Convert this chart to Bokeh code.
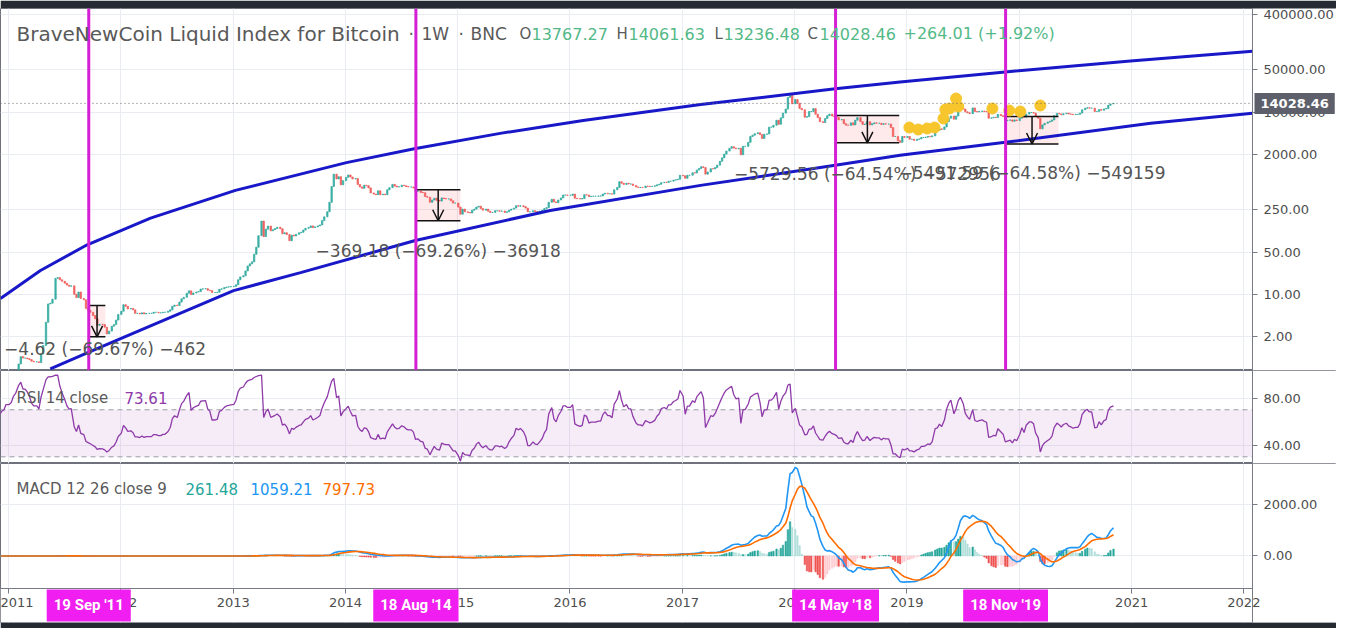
import numpy as np
import pandas as pd
from bokeh.plotting import figure
from bokeh.layouts import column
from bokeh.models import (Range1d, FixedTicker, PrintfTickFormatter, DatetimeTickFormatter,
                          Label, Span, Arrow, OpenHead, ColumnDataSource, BoxAnnotation, Grid,
                          LinearAxis, LogAxis, DatetimeAxis)
from bokeh.embed import file_html
from bokeh.resources import INLINE

# ---------------- data (weekly closes, four weeks per month) ----------------
close_2010 = [0.06, 0.07, 0.065, 0.07, 0.07, 0.07, 0.065, 0.065, 0.062, 0.062, 0.062, 0.063,
              0.063, 0.10, 0.105, 0.15, 0.20, 0.28, 0.25, 0.28, 0.21, 0.24, 0.25, 0.30]   # Jul-Dec
close_2011 = [0.30, 0.32, 0.40, 0.45, 0.72, 0.95, 0.90, 0.90, 0.88, 0.85, 0.80, 0.78,
              0.78, 0.76, 1.05, 1.45, 3.5, 7.0, 7.2, 8.4, 18.5, 19.0, 17.5, 16.5,
              15.4, 14.3, 13.7, 13.9, 10.1, 8.9, 11.0, 8.6, 8.2, 5.9, 5.5, 5.1,
              4.5, 4.0, 3.1, 3.25, 3.2, 2.9, 2.25, 2.5, 3.0, 3.2, 3.8, 4.7]
close_2012 = [5.3, 6.8, 6.4, 5.8, 5.9, 5.6, 4.9, 4.9, 4.8, 5.0, 4.8, 4.9,
              4.9, 4.9, 5.1, 5.1, 5.0, 5.0, 5.1, 5.1, 5.3, 5.6, 6.4, 6.7,
              6.6, 7.5, 8.5, 9.0, 10.5, 11.5, 10.0, 10.6, 11.0, 11.2, 12.3, 12.4,
              12.5, 11.8, 11.6, 10.8, 10.8, 10.9, 12.2, 12.4, 13.0, 13.3, 13.4, 13.5]
close_2013 = [13.6, 14.5, 17.5, 19.5, 20.4, 24.5, 29.5, 32.0, 34.5, 46.0, 60.0, 93.0,
              162.0, 90.0, 119.0, 134.0, 112.0, 117.0, 122.0, 128.0, 121.0, 100.0, 104.0, 97.0,
              77.0, 95.0, 92.0, 98.0, 104.0, 106.0, 115.0, 123.0, 127.0, 135.0, 127.0, 130.0,
              135.0, 140.0, 165.0, 190.0, 230.0, 330.0, 600.0, 960.0, 800.0, 870.0, 640.0, 750.0]
close_2014 = [850, 930, 860, 800, 810, 650, 590, 560, 630, 620, 570, 470,
              450, 440, 510, 440, 450, 440, 530, 575, 650, 610, 590, 595,
              630, 620, 600, 590, 590, 570, 500, 505, 480, 475, 410, 400,
              330, 360, 385, 355, 345, 390, 380, 375, 375, 350, 320, 320]
close_2015 = [275, 210, 255, 230, 225, 220, 245, 255, 275, 285, 260, 245,
              255, 235, 225, 225, 240, 240, 235, 237, 225, 230, 245, 255,
              265, 290, 285, 290, 280, 265, 230, 230, 240, 232, 230, 236,
              245, 260, 270, 330, 370, 335, 325, 360, 390, 435, 435, 430]
close_2016 = [430, 450, 385, 380, 375, 380, 440, 435, 410, 415, 415, 415,
              420, 420, 450, 465, 455, 455, 450, 530, 580, 720, 680, 650,
              680, 660, 660, 625, 590, 580, 580, 575, 610, 605, 600, 605,
              615, 640, 655, 695, 705, 700, 735, 735, 765, 775, 790, 920]
close_2017 = [900, 820, 920, 920, 1010, 1000, 1120, 1190, 1270, 1230, 960, 1040,
              1180, 1170, 1230, 1350, 1560, 1780, 2050, 2300, 2550, 2720, 2580, 2510,
              2560, 2000, 2750, 2750, 3200, 4000, 4200, 4450, 4600, 4300, 3700, 4350,
              4400, 5700, 5700, 6100, 7400, 6350, 8100, 9700, 11300, 17600, 19000, 13800]
close_2018 = [16200, 14100, 11600, 11000, 8300, 8500, 10300, 10300, 11500, 9300, 8200, 7000,
              6800, 7900, 8800, 9350, 8700, 8500, 8200, 7500, 7600, 6500, 6150, 6100,
              6700, 6200, 7400, 8200, 7000, 6300, 6400, 7000, 6200, 6500, 6700, 6600,
              6600, 6300, 6500, 6400, 6400, 5600, 4000, 4000, 3400, 3200, 4000, 3850]
close_2019 = [4000, 3600, 3600, 3450, 3600, 3650, 3850, 3850, 3900, 4000, 3950, 4100,
              5000, 5050, 5350, 5200, 5750, 7000, 8000, 8700, 7700, 8700, 10700, 11900,
              11300, 10200, 9800, 9500, 11800, 10300, 10150, 10350, 10500, 10300, 10200, 8000,
              8100, 8300, 8200, 9250, 8800, 8500, 7300, 7400, 7500, 7100, 7500, 7300]
close_2020 = [8000, 8900, 8300, 9350, 9900, 9900, 9700, 8600, 8000, 5350, 6200, 6600,
              6900, 7100, 7500, 8800, 9600, 9400, 9100, 9500, 9700, 9400, 9300, 9150,
              9250, 9250, 9700, 11000, 11700, 11900, 11700, 11700, 10300, 10350, 11100, 10800,
              11370, 11500, 13030, 13764, 14028.46]
series_years = [(2010, 7, close_2010), (2011, 1, close_2011), (2012, 1, close_2012),
                (2013, 1, close_2013), (2014, 1, close_2014), (2015, 1, close_2015),
                (2016, 1, close_2016), (2017, 1, close_2017), (2018, 1, close_2018),
                (2019, 1, close_2019), (2020, 1, close_2020)]

upper_dates = ["2010-12-06", "2011-04-15", "2011-09-14", "2012-04-07", "2013-01-08", "2014-01-04",
               "2014-08-13", "2015-05-19", "2016-02-13", "2017-03-01", "2018-05-13", "2018-12-10",
               "2019-11-17", "2020-12-28", "2022-01-29"]
upper_vals = [8.61, 24.9, 65.9, 181, 518, 1486, 2518, 4498, 7328, 13400, 24380, 31410,
              46240, 69950, 100900]
lower_dates = ["2011-05-17", "2011-09-14", "2012-04-07", "2013-01-02", "2013-08-08", "2014-08-16",
               "2015-10-29", "2017-03-01", "2018-05-13", "2018-12-10", "2019-11-17", "2021-03-04",
               "2022-01-29"]
lower_vals = [0.598, 1.10, 3.06, 11.6, 22.96, 77.4, 242, 627, 1340, 1959, 3206, 6607, 9660]

cycle_dates = ["2011-09-19", "2014-08-18", "2018-05-14", "2019-11-18"]
cycle_labels = ["19 Sep '11", "18 Aug '14", "14 May '18", "18 Nov '19"]

box_start = ["2011-09-19", "2014-08-18", "2018-05-14", "2019-11-18"]
box_end = ["2011-11-12", "2015-01-10", "2018-12-07", "2020-05-08"]
box_top = [6.63, 533.03, 8877.5, 8503.5]
box_bottom = [2.01, 163.85, 3147.9, 3011.9]
box_text = ["\u22124.62 (\u221269.67%) \u2212462", "\u2212369.18 (\u221269.26%) \u221236918",
            "\u22125729.56 (\u221264.54%) \u2212572956", "\u22125491.59 (\u221264.58%) \u2212549159"]

dot_dates = ["2019-01-09", "2019-02-07", "2019-03-08", "2019-04-01", "2019-04-30", "2019-05-06",
             "2019-05-20", "2019-06-10", "2019-06-17", "2019-10-06", "2019-11-30", "2020-01-05",
             "2020-03-10"]
dot_prices = [5620, 5210, 5410, 5620, 7910, 11120, 11560, 16870, 12470, 11560, 10720, 10310, 12940]

year_ticks = list(range(2011, 2023))
price_ticks = [2, 10, 50, 250, 2000, 10000, 50000, 400000]
rsi_ticks = [40, 80]
macd_ticks = [0, 2000]
last_price = 14028.46
ohlc_text = ["13767.27", "14061.63", "13236.48", "14028.46"]
change_text = "+264.01 (+1.92%)"
rsi_text = "73.61"
macd_texts = ["261.48", "1059.21", "797.73"]

# ---------------- derived series ----------------
def ms(d):
    return pd.Timestamp(d).value / 1e6

dates, closes = [], []
for yr, m0, vals in series_years:
    for i, c in enumerate(vals):
        dates.append(pd.Timestamp(year=yr, month=m0 + i // 4, day=3 + 7 * (i % 4)))
        closes.append(c)
dates = pd.DatetimeIndex(dates)
closes = np.array(closes, dtype=float)
opens = np.r_[closes[0], closes[:-1]]
up = closes >= opens

def rma(x, n):
    out = np.full(len(x), np.nan)
    out[n] = x[1:n + 1].mean()
    for i in range(n + 1, len(x)):
        out[i] = (out[i - 1] * (n - 1) + x[i]) / n
    return out

delta = np.r_[0.0, np.diff(closes)]
gain = rma(np.maximum(delta, 0), 14)
loss = rma(np.maximum(-delta, 0), 14)
rsi = np.where(loss == 0, 100.0, 100 - 100 / (1 + gain / np.where(loss == 0, 1, loss)))

def ema(x, n):
    a = 2 / (n + 1)
    out = np.empty(len(x))
    out[0] = x[0]
    for i in range(1, len(x)):
        out[i] = a * x[i] + (1 - a) * out[i - 1]
    return out

macd = ema(closes, 12) - ema(closes, 26)
signal = ema(macd, 9)
hist = macd - signal
prev = np.r_[hist[0], hist[:-1]]
hist_col = np.where(hist >= 0, np.where(hist >= prev, "#26a69a", "#b2dfdb"),
                    np.where(hist < prev, "#ef5350", "#ffcdd2"))

# ---------------- layout ----------------
W = 1336
PX_DAY = 112.3 / 365.25
T0 = pd.Timestamp("2011-01-01")
x_lo = ms(T0 - pd.Timedelta(days=8 / PX_DAY))
x_hi = ms(T0 + pd.Timedelta(days=(W - 8) / PX_DAY))
x_axis_at = ms(T0 + pd.Timedelta(days=1244 / PX_DAY))
GRID = "#e9edf2"
AX = "#787b86"
TXT = "#4e4e4e"
DARK = "#262a33"
FONT = "DejaVu Sans"
year_ms = [ms(f"{y}-01-01") for y in year_ticks]
xr = Range1d(start=x_lo, end=x_hi)


def style_axis(ax):
    ax.axis_line_color = AX
    ax.major_tick_line_color = AX
    ax.minor_tick_line_color = None
    ax.major_tick_in = 0
    ax.major_tick_out = 5
    ax.major_label_standoff = 6
    ax.major_label_text_font = FONT
    ax.major_label_text_font_size = "13px"
    ax.major_label_text_color = TXT


def make_fig(height, y_range, y_type, top, bottom, yticks):
    p = figure(width=W, height=height, x_range=xr, y_range=y_range, x_axis_type="datetime",
               y_axis_type=y_type, x_axis_location=None, y_axis_location=None,
               output_backend="svg", toolbar_location=None, min_border_left=0,
               min_border_right=0, min_border_top=top, min_border_bottom=bottom,
               border_fill_color=DARK)
    p.xgrid.visible = False
    p.ygrid.visible = False
    tk = FixedTicker(ticks=yticks)
    p.add_layout(Grid(dimension=0, ticker=FixedTicker(ticks=year_ms), grid_line_color=GRID))
    p.add_layout(Grid(dimension=1, ticker=tk, grid_line_color=GRID))
    p.add_layout(BoxAnnotation(left=x_axis_at, fill_color="white", fill_alpha=1, line_color=None,
                               level="underlay"))
    axcls = LogAxis if y_type == "log" else LinearAxis
    ax = axcls(fixed_location=x_axis_at, ticker=tk, formatter=PrintfTickFormatter(format="%.2f"))
    style_axis(ax)
    p.add_layout(ax, "right")
    p.outline_line_color = "#6f727c"
    p.outline_line_width = 1
    return p


# ---- price pane ----
p1 = make_fig(370, Range1d(0.5615, 511700), "log", 8, 0, price_ticks)

src_box = ColumnDataSource(dict(left=pd.to_datetime(box_start), right=pd.to_datetime(box_end),
                                top=box_top, bottom=box_bottom,
                                xc=[(ms(a) + ms(b)) / 2 for a, b in zip(box_start, box_end)]))
p1.quad(left="left", right="right", top="top", bottom="bottom", source=src_box,
        fill_color="#f23645", fill_alpha=0.11, line_color=None)

candle_src = ColumnDataSource(dict(x=dates, top=np.maximum(opens, closes), bottom=np.minimum(opens, closes),
                                   color=np.where(up, "#26a69a", "#ef5350")))
p1.vbar(x="x", top="top", bottom="bottom", width=4.5 * 86400000, source=candle_src,
        fill_color="color", line_color="color", line_width=0.8, alpha=0.85)

p1.line(pd.to_datetime(upper_dates), upper_vals, line_color="#1818c8", line_width=3)
p1.line(pd.to_datetime(lower_dates), lower_vals, line_color="#1818c8", line_width=3)

p1.segment(x0="left", y0="top", x1="right", y1="top", source=src_box, line_color="#111", line_width=1.5)
p1.segment(x0="left", y0="bottom", x1="right", y1="bottom", source=src_box, line_color="#111", line_width=1.5)
p1.add_layout(Arrow(end=OpenHead(size=11, line_width=1.5, line_color="#111"),
                    x_start="xc", y_start="top", x_end="xc", y_end="bottom", source=src_box,
                    line_color="#111", line_width=1.5))

p1.scatter(pd.to_datetime(dot_dates), dot_prices, size=11, fill_color="#f7c52c", line_color="#f7c52c")

p1.segment(x0=[x_lo], y0=[last_price], x1=[x_axis_at], y1=[last_price], line_color="#666",
           line_dash="1 3", line_width=1)
for d in cycle_dates:
    p1.add_layout(Span(location=ms(d), dimension="height", line_color="#d41fd4", line_width=3))

label_gap = [12, 30, 31, 29]
label_shift = [8, 0, 0, 0]
for xc, b, t, g, s in zip(src_box.data["xc"], box_bottom, box_text, label_gap, label_shift):
    p1.add_layout(Label(x=xc, y=b, x_offset=s, y_offset=-g, text=t, text_align="center",
                        text_baseline="middle", text_font=FONT, text_font_size="17px",
                        text_color="#555555"))

p1.add_layout(Label(x=x_axis_at, y=last_price, x_offset=2, text=f"{last_price:.2f}", text_align="left",
                    text_baseline="middle", text_font=FONT, text_font_size="13px", text_font_style="bold",
                    text_color="white", background_fill_color="#5d606b", padding=6))

HY = 370 - 33
GREY = "#595959"
GREEN = "#53b987"
hdr = [(16, "BraveNewCoin Liquid Index for Bitcoin", GREY, "20px"), (408, "\u00b7", GREY, "17px"),
       (421, "1W", GREY, "17px"), (458, "\u00b7", GREY, "17px"), (470, "BNC", GREY, "17px"),
       (519, "O", GREY, "15px"), (531, ohlc_text[0], GREEN, "16px"),
       (616, "H", GREY, "15px"), (628, ohlc_text[1], GREEN, "16px"),
       (714, "L", GREY, "15px"), (723, ohlc_text[2], GREEN, "16px"),
       (807, "C", GREY, "15px"), (819, ohlc_text[3], GREEN, "16px"),
       (903, change_text, GREEN, "16px")]
for x, t, c, fs in hdr:
    p1.add_layout(Label(x=x, y=HY, x_units="screen", y_units="screen", text=t, text_baseline="middle",
                        text_font=FONT, text_font_size=fs, text_color=c))

# ---- RSI pane ----
p2 = make_fig(93, Range1d(24.3, 103.4), "linear", 0, 0, rsi_ticks)
p2.add_layout(BoxAnnotation(bottom=30, top=70, right=x_axis_at, fill_color="#9c27b0", fill_alpha=0.09,
                            line_color=None, level="underlay"))
p2.segment(x0=[x_lo, x_lo], y0=[30, 70], x1=[x_axis_at, x_axis_at], y1=[30, 70],
           line_color="#9a9ca3", line_dash="5 4", line_width=1)
p2.line(dates, rsi, line_color="#8e3aa8", line_width=1.3)
p2.add_layout(Label(x=16, y=66, x_units="screen", y_units="screen", text="RSI 14 close", text_baseline="middle",
                    text_font=FONT, text_font_size="15px", text_color=GREY))
p2.add_layout(Label(x=124, y=66, x_units="screen", y_units="screen", text=rsi_text, text_baseline="middle",
                    text_font=FONT, text_font_size="15px", text_color="#8e3aa8"))

# ---- MACD pane (frame also holds the time axis strip) ----
MACD_BOTTOM = -1250
p3 = make_fig(165, Range1d(-2558, 3558), "linear", 0, 6, macd_ticks)
p3.add_layout(BoxAnnotation(top=MACD_BOTTOM, fill_color="white", fill_alpha=1, line_color=None,
                            level="underlay"))
p3.vbar(x=dates, top=hist, bottom=0, width=4.5 * 86400000, fill_color=hist_col, line_color=hist_col,
        line_width=0.6)
p3.line(dates, macd, line_color="#2196f3", line_width=1.6)
p3.line(dates, signal, line_color="#ff6d00", line_width=1.6)
xa = DatetimeAxis(fixed_location=MACD_BOTTOM, ticker=FixedTicker(ticks=year_ms), bounds=(x_lo, x_axis_at))
xa.formatter = DatetimeTickFormatter(years="%Y", months="%Y", days="%Y", hours="%Y", hourmin="%Y",
                                     minutes="%Y", minsec="%Y", seconds="%Y", milliseconds="%Y",
                                     microseconds="%Y")
style_axis(xa)
xa.major_label_standoff = 5
p3.add_layout(xa, "below")

mh = [(16, "MACD 12 26 close 9", GREY), (185, macd_texts[0], "#26a69a"),
      (250, macd_texts[1], "#2196f3"), (322, macd_texts[2], "#ff6d00")]
for x, t, c in mh:
    p3.add_layout(Label(x=x, y=2588, x_units="screen", text=t, text_baseline="middle",
                        text_font=FONT, text_font_size="15px", text_color=c))

for d, t in zip(cycle_dates, cycle_labels):
    p3.add_layout(Label(x=ms(d), y=MACD_BOTTOM, y_offset=-17, text=t, text_align="center",
                        text_baseline="middle", text_font="Roboto", text_font_style="bold",
                        text_font_size="15px", text_color="white", background_fill_color="#f01ef0",
                        padding=7))

layout = column(p1, p2, p3)
open("out.html", "w").write(file_html(layout, INLINE))
